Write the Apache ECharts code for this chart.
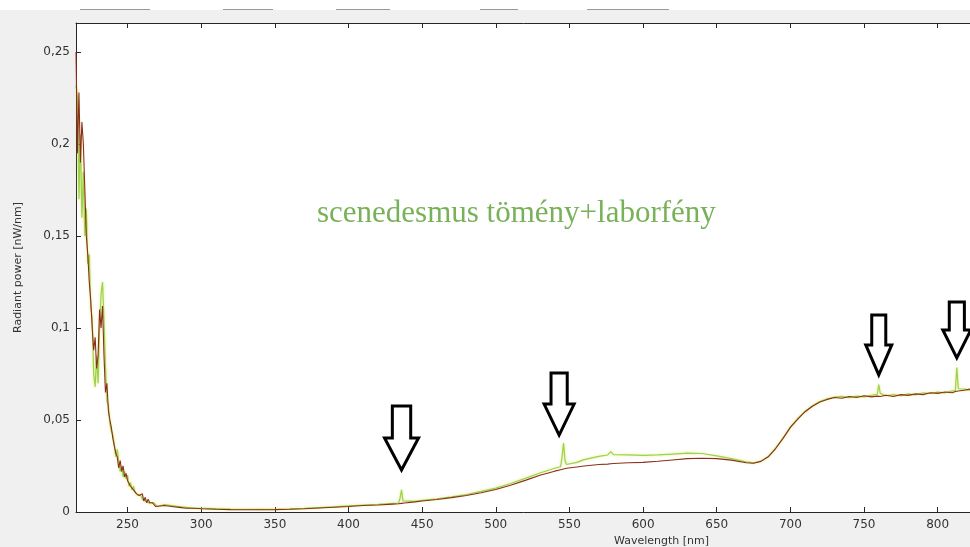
<!DOCTYPE html>
<html>
<head>
<meta charset="utf-8">
<script src="https://cdn.jsdelivr.net/npm/echarts@6/dist/echarts.min.js"></script>
<style>
  html, body { margin: 0; padding: 0; background: #f0f0f0; }
  #spectrum { width: 970px; height: 547px; }
</style>
</head>
<body>
<div id="spectrum"></div>
<script>
// hullamhossz [nm]
var wavelength = [
  215,216,217,218,219,220,221,222,223,224,225,226,227,228,229,230,231,232,233,234,
  235,236,237,238,239,240,241,242,243,244,245,246,247,248,249,250,251,252,253,254,
  255,256,257,258,259,260,261,262,263,264,265,266,267,268,269,270,
  275,280,285,290,295,300,310,320,330,340,350,360,370,380,390,400,410,420,430,
  434,435,436,437,438,445,450,460,470,480,490,500,510,520,530,540,
  544,545,546,547,548,555,560,570,576,578,580,590,600,610,620,630,640,650,660,670,
  675,680,685,690,695,700,705,710,715,720,725,730,735,740,745,750,755,
  759,760,761,765,770,775,780,785,790,795,800,805,810,812,813,814,818,822
];

// barna gorbe
var brownVals = [
  .250,.195,.228,.190,.212,.200,.175,.150,.140,.125,.115,.100,.088,.095,.078,.085,.110,.100,.112,.085,
  .065,.070,.055,.050,.046,.040,.036,.032,.030,.024,.028,.022,.025,.019,.021,.017,.016,.014,.015,.012,
  .013,.010,.011,.009,.008,.010,.006,.008,.005,.007,.005,.004,.005,.004,.003,.004,
  .0035,.003,.0025,.002,.002,.0018,.0015,.0013,.0012,.0012,.0013,.0015,.0018,.0022,.0026,.003,.0035,.0038,.0043,
  .0045,.0046,.0047,.0048,.0049,.0055,.006,.0068,.0078,.009,.0105,.0122,.0145,.0172,.020,.0222,
  .023,.0232,.0234,.0236,.0238,.0245,.025,.0258,.026,.0262,.0264,.0268,.027,.0276,.0283,.029,.0292,.029,.0282,.0268,
  .0265,.0275,.030,.0345,.040,.046,.0505,.0545,.0575,.0598,.0612,.0622,.0618,.0628,.0622,.0632,.0626,
  .063,.0632,.0628,.0635,.0628,.0638,.0634,.0642,.0638,.0648,.0645,.0652,.0648,.0655,.0652,.0658,.0662,.0668
];

// zold gorbe
var greenVals = [
  .232,.225,.170,.205,.160,.185,.150,.165,.135,.140,.112,.105,.075,.068,.085,.070,.100,.118,.125,.105,
  .080,.060,.058,.048,.044,.042,.037,.030,.034,.028,.022,.025,.019,.022,.018,.020,.014,.016,.012,.014,
  .011,.012,.009,.010,.009,.007,.008,.006,.007,.005,.006,.005,.004,.005,.004,.003,
  .004,.0035,.003,.0025,.002,.002,.0018,.0016,.0015,.0014,.0015,.0017,.002,.0024,.0028,.0033,.0038,.0042,.0047,
  .0049,.0075,.0120,.0060,.0052,.0058,.0063,.0072,.0082,.0095,.0112,.013,.0155,.0183,.0212,.0238,
  .0246,.030,.0375,.028,.0258,.027,.0285,.0302,.031,.0328,.0312,.031,.0308,.031,.0315,.032,.0318,.0305,.029,.0272,
  .0267,.0277,.0302,.0347,.0402,.0462,.0508,.0548,.0578,.060,.0615,.0625,.0628,.0622,.063,.0626,.0634,
  .064,.0692,.0645,.0632,.0638,.0632,.0642,.0636,.0648,.0644,.0652,.0648,.0658,.066,.0785,.067,.0668,.0662
];

var xTicks = [250,300,350,400,450,500,550,600,650,700,750,800,850,900,950,1000];
var yTicks = [0,0.05,0.1,0.15,0.2,0.25];

// nyilak: [hullamhossz, ertek (csucs), szelesseg, magassag]
var arrows = [
  [436, 0.0228, 34, 64],
  [543, 0.0418, 30, 62],
  [760, 0.0745, 26, 60],
  [813, 0.0837, 28, 56]
];

var titleText = 'scenedesmus tömény+laborfény';

function pairs(vals) {
  return wavelength.map(function (w, i) { return [w, vals[i]]; });
}

var axisFont = { fontFamily: 'DejaVu Sans', fontSize: 12, color: '#333' };

function renderArrow(params, api) {
    var tip = api.coord([api.value(0), api.value(1)]);
    var w = api.value(2), h = api.value(3);
    var s = w * 0.27;
    return {
        type: 'polygon',
        shape: {
            points: [
                [tip[0] - s, tip[1] - h], [tip[0] + s, tip[1] - h],
                [tip[0] + s, tip[1] - h * 0.5], [tip[0] + w / 2, tip[1] - h * 0.5],
                [tip[0], tip[1]],
                [tip[0] - w / 2, tip[1] - h * 0.5], [tip[0] - s, tip[1] - h * 0.5]
            ]
        },
        style: { fill: '#fff', stroke: '#000', lineWidth: 3, lineJoin: 'miter' }
    };
}

var chart = echarts.init(document.getElementById('spectrum'));

var option = {
    animation: false,
    backgroundColor: '#f0f0f0',
    grid: {
        left: 76, top: 23, width: 1171, bottom: 35,
        outerBoundsMode: 'none',
        show: true, backgroundColor: '#fff', borderWidth: 0
    },
    graphic: [
        { type: 'rect', shape: { x: 0, y: 0, width: 970, height: 10 }, style: { fill: '#fff' }, z: 0 },
        { type: 'line', shape: { x1: 80, y1: 9.5, x2: 150, y2: 9.5 }, style: { stroke: '#999' } },
        { type: 'line', shape: { x1: 223, y1: 9.5, x2: 273, y2: 9.5 }, style: { stroke: '#999' } },
        { type: 'line', shape: { x1: 336, y1: 9.5, x2: 390, y2: 9.5 }, style: { stroke: '#999' } },
        { type: 'line', shape: { x1: 480, y1: 9.5, x2: 518, y2: 9.5 }, style: { stroke: '#999' } },
        { type: 'line', shape: { x1: 587, y1: 9.5, x2: 669, y2: 9.5 }, style: { stroke: '#999' } },
        {
            type: 'text', left: 317, top: 198, z: 10,
            style: { text: titleText, font: '31px "Liberation Serif"', fill: '#79b159' }
        }
    ],
    xAxis: [{
        type: 'value', min: 215, max: 1010, position: 'bottom',
        name: 'Wavelength [nm]', nameLocation: 'middle', nameGap: 24,
        nameTextStyle: { fontFamily: 'DejaVu Sans', fontSize: 11, color: '#333' },
        axisLine: { lineStyle: { color: '#262626', width: 1 } },
        axisTick: { inside: true, length: 5, customValues: xTicks, lineStyle: { color: '#262626' } },
        axisLabel: Object.assign({ customValues: xTicks, margin: 7 }, axisFont),
        splitLine: { show: false }
    }, {
        type: 'value', min: 215, max: 1010, position: 'top',
        axisLine: { lineStyle: { color: '#262626', width: 1 } },
        axisTick: { inside: true, length: 5, customValues: xTicks, lineStyle: { color: '#262626' } },
        axisLabel: { show: false },
        splitLine: { show: false }
    }],
    yAxis: {
        type: 'value', min: 0, max: 0.2658,
        name: 'Radiant power [nW/nm]', nameLocation: 'middle', nameGap: 52,
        nameTextStyle: { fontFamily: 'DejaVu Sans', fontSize: 11, color: '#333' },
        axisLine: { show: true, lineStyle: { color: '#262626', width: 1 } },
        axisTick: { show: true, inside: true, length: 5, customValues: yTicks, lineStyle: { color: '#262626' } },
        axisLabel: Object.assign({
            customValues: yTicks, margin: 6,
            formatter: function (v) { return String(+v.toFixed(2)).replace('.', ','); }
        }, axisFont),
        splitLine: { show: false }
    },
    series: [{
        name: 'zold',
        type: 'line',
        data: pairs(greenVals),
        showSymbol: false,
        lineStyle: { color: '#98d447', width: 1.2, shadowColor: 'rgba(225,215,80,0.7)', shadowBlur: 3 },
        itemStyle: { color: '#98d447' },
        z: 2
    }, {
        name: 'barna',
        type: 'line',
        data: pairs(brownVals),
        showSymbol: false,
        lineStyle: { color: '#8c2f1a', width: 1.1 },
        itemStyle: { color: '#8c2f1a' },
        z: 3
    }, {
        name: 'nyilak',
        type: 'custom',
        renderItem: renderArrow,
        data: arrows,
        clip: false,
        silent: true,
        z: 5
    }]
};

chart.setOption(option);

window.addEventListener('resize', function () {
    chart.resize();
});
</script>
</body>
</html>
